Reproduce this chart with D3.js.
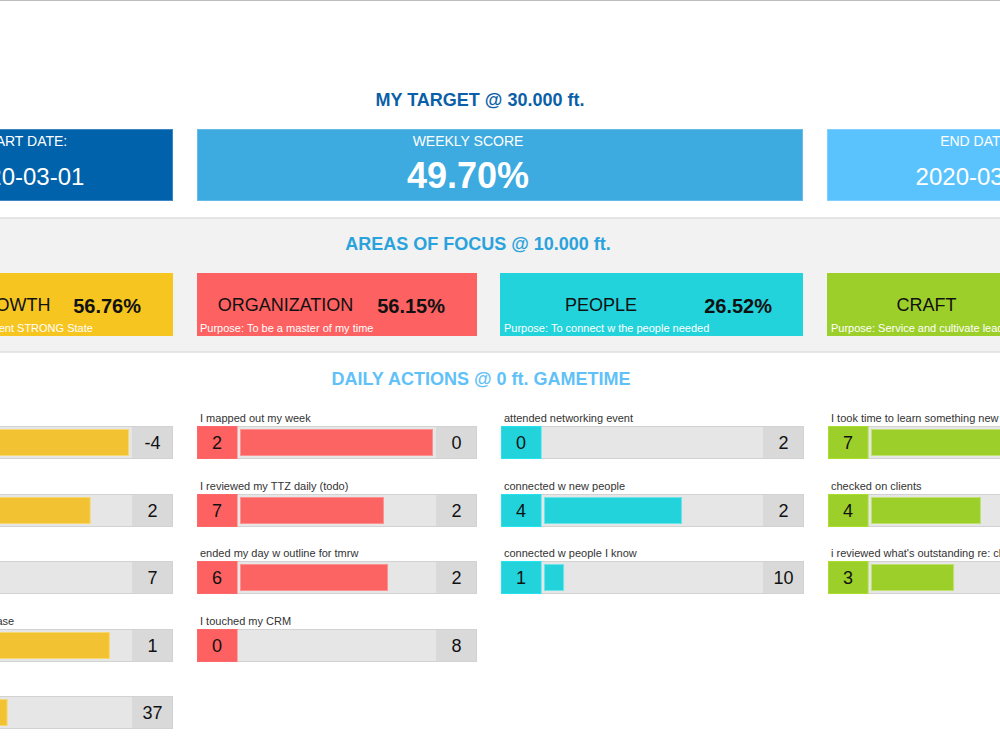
<!DOCTYPE html>
<html>
<head>
<meta charset="utf-8">
<script src="https://cdn.jsdelivr.net/npm/d3@7/dist/d3.min.js"></script>
<style>
  html, body { margin: 0; padding: 0; background: #fff; }
  svg { display: block; font-family: "Liberation Sans", Arial, sans-serif; }
</style>
</head>
<body>
<svg id="chart" width="1000" height="750"></svg>
<script>
// ---------------- DATA ----------------
const sectionTitles = ["MY TARGET @ 30.000 ft.", "AREAS OF FOCUS @ 10.000 ft.", "DAILY ACTIONS @ 0 ft. GAMETIME"];
const kpiLabels = ["START DATE:", "WEEKLY SCORE", "END DATE:"];
const kpiValues = ["2020-03-01", "49.70%", "2020-03-07"];

const areaNames = ["MENTAL GROWTH", "ORGANIZATION", "PEOPLE", "CRAFT"];
const areaScores = [56.76, 56.15, 26.52, 58.82];
const areaPurposes = [
  "Purpose: To be in consistent STRONG State",
  "Purpose: To be a master of my time",
  "Purpose: To connect w the people needed",
  "Purpose: Service and cultivate leads"
];

const growthActions = ["I worked out", "I ate clean", "I meditated", "I practiced my power phrase", "I drank water"];
const growthDone    = [11, 9, 3, 10, 28];
const growthRemain  = [-4, 2, 7, 1, 37];
const growthPct     = [100, 82, 30, 91, 43];

const orgActions = ["I mapped out my week", "I reviewed my TTZ daily (todo)", "ended my day w outline for tmrw", "I touched my CRM"];
const orgDone    = [2, 7, 6, 0];
const orgRemain  = [0, 2, 2, 8];
const orgPct     = [100, 74.6, 76.7, 0];

const peopleActions = ["attended networking event", "connected w new people", "connected w people I know"];
const peopleDone    = [0, 4, 1];
const peopleRemain  = [2, 2, 10];
const peoplePct     = [0, 63.9, 9.3];

const craftActions = ["I took time to learn something new", "checked on clients", "i reviewed what's outstanding re: clients"];
const craftDone    = [7, 4, 3];
const craftRemain  = [1, 4, 5];
const craftPct     = [87.5, 51.6, 39];

// ---------------- LAYOUT / STYLE ----------------
const svg = d3.select("#chart");
const FONT_BOLD = 700;
const areaColors = ["#f7c520", "#fe6161", "#22d3dc", "#9dcf2a"];
const barColors  = ["#f2c232", "#fc6464", "#22d3dc", "#9dcf2a"];
const barStroke  = ["#f7d870", "#fd9090", "#6fe3e8", "#bfe270"];
const colX = [-127, 197, 501, 828];
const colW = [300, 280, 303, 300];

const actionsByArea = [
  {labels: growthActions, done: growthDone, remain: growthRemain, pct: growthPct},
  {labels: orgActions, done: orgDone, remain: orgRemain, pct: orgPct},
  {labels: peopleActions, done: peopleDone, remain: peopleRemain, pct: peoplePct},
  {labels: craftActions, done: craftDone, remain: craftRemain, pct: craftPct}
];

// top rule
svg.append("rect").attr("x", 0).attr("y", 0).attr("width", 1000).attr("height", 1).attr("fill", "#bdbdbd");

// focus band
svg.append("rect").attr("x", -1).attr("y", 218).attr("width", 1002).attr("height", 134)
  .attr("fill", "#f2f2f2").attr("stroke", "#dedede").attr("stroke-width", 1.5);

// section titles
const titleY = [106, 249.5, 385];
const titleX = [480, 478, 481];
const titleColors = ["#0b5fa8", "#2aa2dc", "#5fc1f8"];
svg.selectAll("text.section").data(sectionTitles).join("text")
  .attr("class", "section")
  .attr("x", (d, i) => titleX[i]).attr("y", (d, i) => titleY[i])
  .attr("text-anchor", "middle")
  .attr("font-size", 18).attr("font-weight", FONT_BOLD)
  .attr("fill", (d, i) => titleColors[i])
  .text(d => d);

// KPI boxes
const kpiX = [-127, 197, 827];
const kpiW = [300, 606, 300];
const kpiFill = ["#0062ab", "#3daae0", "#5ac3fe"];
const kpiStroke = ["#3f86c4", "#66bce8", "#7fd0fe"];
const kpiTextX = [23, 468, 977];
const kpiG = svg.selectAll("g.kpi").data(kpiLabels).join("g").attr("class", "kpi");
kpiG.append("rect")
  .attr("x", (d, i) => kpiX[i] + 0.5).attr("y", 129.5)
  .attr("width", (d, i) => kpiW[i] - 1).attr("height", 71)
  .attr("fill", (d, i) => kpiFill[i]).attr("stroke", (d, i) => kpiStroke[i]);
kpiG.append("text")
  .attr("x", (d, i) => kpiTextX[i]).attr("y", 146)
  .attr("text-anchor", "middle").attr("font-size", 14).attr("fill", "#fff")
  .text(d => d);
kpiG.append("text")
  .attr("x", (d, i) => kpiTextX[i]).attr("y", (d, i) => i === 1 ? 188 : 185)
  .attr("text-anchor", "middle")
  .attr("font-size", (d, i) => i === 1 ? 36 : 24)
  .attr("font-weight", (d, i) => i === 1 ? FONT_BOLD : 400)
  .attr("fill", "#fff")
  .text((d, i) => kpiValues[i]);

// focus boxes
const fmtPct = d3.format(".2f");
const areaG = svg.selectAll("g.area").data(areaNames).join("g").attr("class", "area");
areaG.append("rect")
  .attr("x", (d, i) => colX[i] - (i > 1 ? 1 : 0)).attr("y", 273)
  .attr("width", (d, i) => colW[i]).attr("height", 63)
  .attr("fill", (d, i) => areaColors[i]);
areaG.append("text")
  .attr("x", (d, i) => colX[i] + (colW[i] - 103) / 2).attr("y", 311)
  .attr("text-anchor", "middle").attr("font-size", 18).attr("fill", "#111")
  .text(d => d);
areaG.append("text")
  .attr("x", (d, i) => colX[i] + colW[i] - 32).attr("y", 313)
  .attr("text-anchor", "end").attr("font-size", 20).attr("font-weight", FONT_BOLD).attr("fill", "#111")
  .text((d, i) => fmtPct(areaScores[i]) + "%");
areaG.append("text")
  .attr("x", (d, i) => colX[i] + 3).attr("y", 331.5)
  .attr("font-size", 11).attr("fill", "#fff")
  .text((d, i) => areaPurposes[i]);

// daily action rows
const LEFT_W = 40, RIGHT_W = 41, ROW_H = 33, INSET = 3;
actionsByArea.forEach((a, c) => {
  const x0 = colX[c], w = colW[c];
  const trackX = x0 + LEFT_W;
  const trackW = w - LEFT_W - RIGHT_W;
  const xScale = d3.scaleLinear().domain([0, 100]).range([0, trackW - 2 * INSET]);
  const rowY = d3.scaleLinear().domain([0, 1]).range([426, 493.5]);
  const rows = a.labels.map((lab, i) => ({lab, done: a.done[i], remain: a.remain[i], pct: a.pct[i], i}));
  const g = svg.append("g");
  const r = g.selectAll("g").data(rows).join("g")
    .attr("transform", d => `translate(0,${Math.round(rowY(d.i))})`);
  r.append("text").attr("x", x0 + 3).attr("y", -4.5)
    .attr("font-size", 11).attr("fill", "#333").text(d => d.lab);
  r.append("rect").attr("x", x0 + 0.5).attr("y", 0.5).attr("width", w - 1).attr("height", ROW_H - 1)
    .attr("fill", "#e6e6e6").attr("stroke", "#d2d2d2");
  r.append("rect").attr("x", x0 + w - RIGHT_W).attr("y", 1).attr("width", RIGHT_W - 1).attr("height", ROW_H - 2)
    .attr("fill", "#d9d9d9");
  r.append("rect").attr("x", x0 + 0.5).attr("y", 0.5).attr("width", LEFT_W - 0.5).attr("height", ROW_H - 1)
    .attr("fill", areaColors[c]).attr("stroke", d3.color(areaColors[c]).brighter(0.2));
  r.filter(d => d.pct > 0).append("rect")
    .attr("x", trackX + INSET + 0.5).attr("y", INSET + 0.5)
    .attr("width", d => Math.max(0, xScale(d.pct) - 1)).attr("height", ROW_H - 2 * INSET - 1)
    .attr("fill", barColors[c]).attr("stroke", barStroke[c]);
  r.append("text").attr("x", x0 + LEFT_W / 2).attr("y", 23)
    .attr("text-anchor", "middle").attr("font-size", 18).attr("fill", "#111").text(d => d.done);
  r.append("text").attr("x", x0 + w - RIGHT_W / 2).attr("y", 23)
    .attr("text-anchor", "middle").attr("font-size", 18).attr("fill", "#111").text(d => d.remain);
});
</script>
</body>
</html>
